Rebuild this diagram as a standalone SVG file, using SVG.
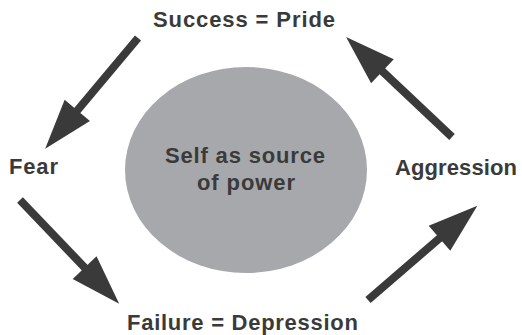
<svg xmlns="http://www.w3.org/2000/svg" width="522" height="335" viewBox="0 0 522 335">
<style>
.lbl{font-family:"Liberation Sans",Arial,sans-serif;font-weight:bold;font-size:22px;fill:#3a3a3a}
.conn{stroke:#3a3a3a;stroke-width:8;fill:none;marker-end:url(#head)}
</style>
<defs>
<marker id="head" markerUnits="userSpaceOnUse" markerWidth="52" markerHeight="34" viewBox="0 -17 52 34" refX="2" refY="0" orient="auto" overflow="visible">
<path d="M0,-16.5 L50,0 L0,16.5 Z" fill="#3a3a3a"/>
</marker>
</defs>
<rect width="522" height="335" fill="#ffffff"/>
<g id="center">
<ellipse cx="246" cy="170" rx="121" ry="103" fill="#a7a8ab"/>
<text class="lbl" x="245" y="163" text-anchor="middle" textLength="160" lengthAdjust="spacing">Self as source</text>
<text class="lbl" x="246" y="190" text-anchor="middle" textLength="98" lengthAdjust="spacing">of power</text>
</g>
<g id="success">
<text class="lbl" x="153" y="27" textLength="182" lengthAdjust="spacing">Success = Pride</text>
</g>
<g id="fear">
<text class="lbl" x="9" y="174" textLength="49" lengthAdjust="spacing">Fear</text>
</g>
<g id="aggression">
<text class="lbl" x="395" y="175" textLength="122" lengthAdjust="spacing">Aggression</text>
</g>
<g id="failure">
<text class="lbl" x="127" y="330" textLength="231" lengthAdjust="spacing">Failure = Depression</text>
</g>
<g id="connectors">
<line class="conn" x1="138" y1="38" x2="76" y2="112"/>
<line class="conn" x1="20" y1="200" x2="86" y2="269"/>
<line class="conn" x1="368" y1="300" x2="441" y2="237"/>
<line class="conn" x1="452" y1="137" x2="381" y2="70"/>
</g>
</svg>
